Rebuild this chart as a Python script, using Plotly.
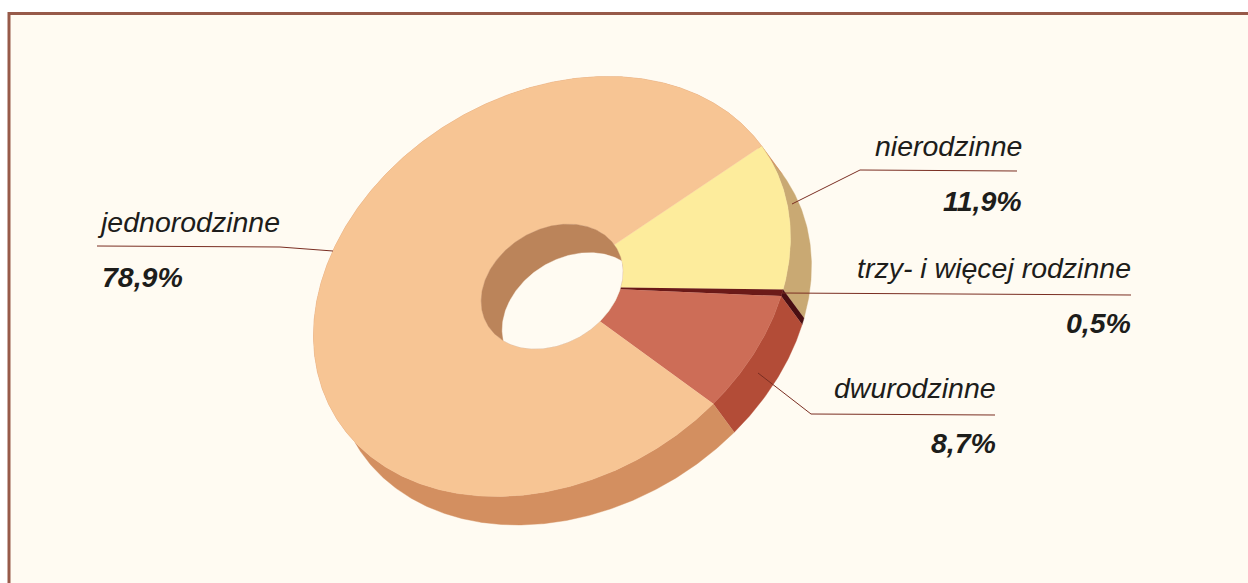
import numpy as np
import plotly.graph_objects as go

# Data
categories = ["nierodzinne", "trzy- i więcej rodzinne", "dwurodzinne", "jednorodzinne"]
values = [11.9, 0.5, 8.7, 78.9]

# Style
top_colors = ["#FDEC9C", "#6B1A18", "#CD6D57", "#F7C594"]
wall_colors = ["#C9A973", "#4A0F12", "#B34C37", "#D38F60"]
BG = "#FFFBF2"
INNER = "#BB845A"
BORDER = "#975A49"
LEADER = "#7A2E22"
INK = "#1D1D1B"
W, H = 1248, 583

# Geometry of the tilted, extruded ring (pixel space of the axes)
C = np.array([552.0, 286.5])
SIGMA = np.array([[238.5 ** 2, -11700.0], [-11700.0, 210.0 ** 2]])
L = np.linalg.cholesky(SIGMA)
HOLE = 0.297
DEPTH = np.array([21.0, 28.5])
first_edge = np.array([208.0, -139.5])
u = np.linalg.solve(L, first_edge)
theta0 = np.arctan2(u[1], u[0])


def rim(t, r=1.0, shift=(0.0, 0.0)):
    t = np.atleast_1d(t)
    pts = (L @ np.vstack([np.cos(t), np.sin(t)])).T * r + C + np.asarray(shift)
    return pts


def poly(pts, color, name):
    return go.Scatter(
        x=pts[:, 0], y=pts[:, 1], mode="lines", fill="toself", fillcolor=color,
        line=dict(color=color, width=0.4), name=name, hoverinfo="name", showlegend=False,
    )


fractions = np.array(values) / sum(values)
edges = theta0 + 2 * np.pi * np.concatenate([[0], np.cumsum(fractions)])

traces = []
# outer walls
for i, cat in enumerate(categories):
    t = np.linspace(edges[i], edges[i + 1], max(8, int(fractions[i] * 720)))
    traces.append(poly(np.vstack([rim(t), rim(t[::-1], shift=DEPTH)]), wall_colors[i], cat))
# top faces
for i, cat in enumerate(categories):
    t = np.linspace(edges[i], edges[i + 1], max(8, int(fractions[i] * 720)))
    traces.append(poly(np.vstack([rim(t), rim(t[::-1], r=HOLE)]), top_colors[i], cat))

# hole: inner wall, then see-through lens
tt = np.linspace(0, 2 * np.pi, 361)
traces.append(poly(rim(tt, r=HOLE), INNER, "jednorodzinne"))
Linv = np.linalg.inv(L)


def inside(pts, shift):
    q = (Linv @ (pts - C - shift).T).T
    return (q ** 2).sum(axis=1) <= HOLE ** 2


a = rim(tt, r=HOLE)
b = rim(tt, r=HOLE, shift=DEPTH)
lens = np.vstack([a[inside(a, DEPTH)], b[inside(b, np.zeros(2))]])
mid = C + DEPTH / 2
lens = lens[np.argsort(np.arctan2(*(lens - mid).T[::-1]))]
traces.append(poly(lens, BG, ""))

fig = go.Figure(traces)


def leader(p):
    return dict(
        type="path", xref="x", yref="y", layer="above",
        path="M " + " L ".join(f"{x},{y}" for x, y in p),
        line=dict(color=LEADER, width=1),
    )


shapes = [
    dict(type="rect", xref="x", yref="y", x0=9, y0=13.5, x1=W + 20, y1=H + 20,
         fillcolor=BG, line=dict(color=BORDER, width=3), layer="below"),
    leader([(792, 204), (860, 170), (1017, 171)]),
    leader([(782, 293), (1131, 295)]),
    leader([(758, 373), (811, 414), (995, 415)]),
    leader([(97, 246), (280, 247), (333, 251)]),
]

# label anchor: x, name-row y, value-row y, anchor side
label_pos = [
    (1024, 146, 201, "right"),
    (1133, 268, 323, "right"),
    (998, 388, 443, "right"),
    (95, 222, 277, "left"),
]
annotations = []
for cat, v, (x, y1, y2, side) in zip(categories, values, label_pos):
    annotations.append(dict(x=x, y=y1, xref="x", yref="y", text=cat, showarrow=False,
                            xanchor=side, yanchor="middle",
                            font=dict(family="Liberation Sans", size=28.5, color=INK, style="italic")))
    annotations.append(dict(x=x if side == "right" else x + 5, y=y2, xref="x", yref="y",
                            text=f"{v:.1f}%".replace(".", ","), showarrow=False,
                            xanchor=side, yanchor="middle",
                            font=dict(family="Liberation Sans", size=28.5, color=INK,
                                      style="italic", weight="bold")))

fig.update_layout(
    width=W, height=H, autosize=False,
    margin=dict(l=0, r=0, t=0, b=0),
    paper_bgcolor="#FFFFFF", plot_bgcolor="#FFFFFF",
    xaxis=dict(range=[0, W], visible=False, fixedrange=True),
    yaxis=dict(range=[H, 0], visible=False, fixedrange=True),
    shapes=shapes, annotations=annotations, showlegend=False,
)
fig.write_html("out.html", config={"displayModeBar": False},
               post_script="document.body.style.margin='0';document.body.style.overflow='hidden';")
